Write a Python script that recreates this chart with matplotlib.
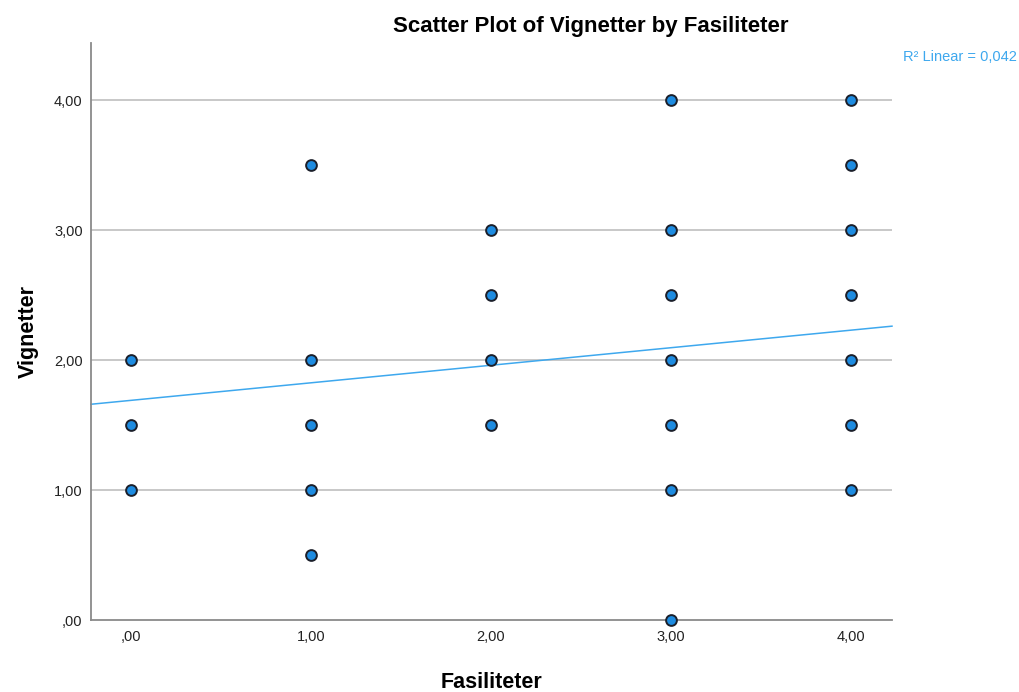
import numpy as np
import matplotlib.pyplot as plt

plt.rcParams['font.family'] = ['Liberation Sans', 'DejaVu Sans']

# Fasiliteter / Vignetter observations (distinct positions)
fasiliteter = [0, 0, 0,
               1, 1, 1, 1, 1,
               2, 2, 2, 2,
               3, 3, 3, 3, 3, 3, 3,
               4, 4, 4, 4, 4, 4, 4]
vignetter = [2.0, 1.5, 1.0,
             3.5, 2.0, 1.5, 1.0, 0.5,
             3.0, 2.5, 2.0, 1.5,
             4.0, 3.0, 2.5, 2.0, 1.5, 1.0, 0.0,
             4.0, 3.5, 3.0, 2.5, 2.0, 1.5, 1.0]

# fitted linear line (intercept, slope) and R squared
fit_intercept = 1.69
fit_slope = 0.135
r2 = 0.042

x_ticks = [0, 1, 2, 3, 4]
x_labels = [',00', '1,00', '2,00', '3,00', '4,00']
y_ticks = [0, 1, 2, 3, 4]
y_labels = [',00', '1,00', '2,00', '3,00', '4,00']

fig = plt.figure(figsize=(10.2, 6.92), dpi=100)
ax = fig.add_axes([0.0892, 0.104, 0.7853, 0.834])

xmin, xmax = -0.222, 4.228
ax.set_xlim(xmin, xmax)
ax.set_ylim(0, 4.44)

for yv in y_ticks[1:]:
    ax.axhline(yv, color='#c4c4c4', lw=1.3, zorder=1)

xx = np.array([xmin, xmax])
ax.plot(xx, fit_intercept + fit_slope * xx, color='#3ea8ee', lw=1.1, zorder=2, clip_on=False)

ax.scatter(fasiliteter, vignetter, s=60, color='#1d8be0', edgecolors='#1b1f2a',
           linewidths=1.4, zorder=3, clip_on=False)

ax.spines['top'].set_visible(False)
ax.spines['right'].set_visible(False)
ax.spines['left'].set_color('#8a8a8a')
ax.spines['bottom'].set_color('#8a8a8a')
ax.spines['left'].set_linewidth(1.3)
ax.spines['bottom'].set_linewidth(1.3)

ax.set_xticks(x_ticks)
ax.set_xticklabels(x_labels)
ax.set_yticks(y_ticks)
ax.set_yticklabels(y_labels)
ax.tick_params(length=0, labelsize=10.5, colors='#222222', pad=6)
ax.tick_params(axis='x', pad=7)

ax.set_xlabel('Fasiliteter', fontsize=15.5, fontweight='bold', labelpad=20)
ax.set_ylabel('Vignetter', fontsize=15.5, fontweight='bold', labelpad=11)
fig.text(0.579, 0.961, 'Scatter Plot of Vignetter by Fasiliteter', fontsize=16,
         fontweight='bold', ha='center', va='center')

fig.text(0.997, 0.917, 'R² Linear = ' + f'{r2:.3f}'.replace('.', ','),
         ha='right', va='center', fontsize=10.5, color='#3ea8ee')

fig.savefig('out.png', dpi=100)
